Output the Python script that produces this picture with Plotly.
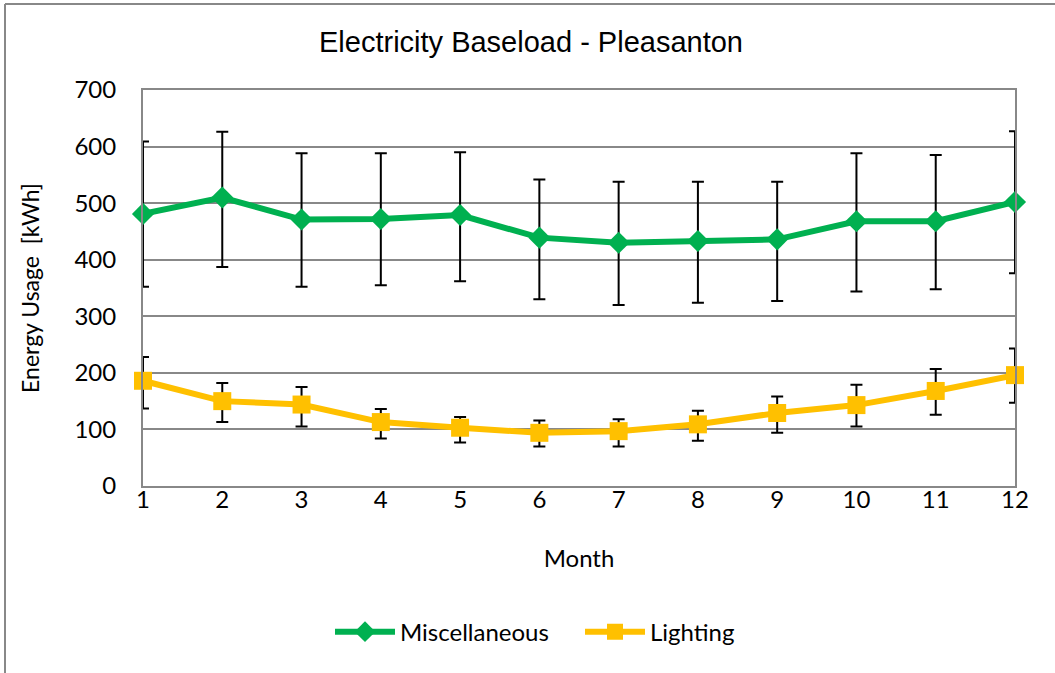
import plotly.graph_objects as go

months = [1, 2, 3, 4, 5, 6, 7, 8, 9, 10, 11, 12]
misc = [481, 510, 471, 472, 479, 439, 430, 433, 436, 468, 468, 502]
misc_hi = [609, 626, 588, 588, 590, 542, 538, 538, 538, 588, 585, 627]
misc_lo = [352, 387, 352, 355, 362, 330, 320, 324, 327, 344, 348, 376]
light = [186, 150, 144, 113, 103, 94, 97, 109, 129, 143, 168, 196]
light_hi = [228, 182, 175, 136, 122, 116, 118, 133, 158, 179, 207, 243]
light_lo = [137, 113, 105, 84, 77, 70, 70, 80, 94, 105, 126, 147]

GREEN = "#00B050"
YELLOW = "#FFC000"
FONT = "Lato"

def err(vals, hi, lo):
    return dict(type="data", symmetric=False,
                array=[h - v for h, v in zip(hi, vals)],
                arrayminus=[v - l for v, l in zip(vals, lo)],
                color="black", thickness=2, width=6)

fig = go.Figure()
# error bars (clipped to plot area), drawn beneath the lines
for vals, hi, lo in [(misc, misc_hi, misc_lo), (light, light_hi, light_lo)]:
    fig.add_trace(go.Scatter(x=months, y=vals, mode="markers", showlegend=False,
                             marker=dict(size=0.1, opacity=0), hoverinfo="skip",
                             error_y=err(vals, hi, lo), cliponaxis=True))
fig.add_trace(go.Scatter(x=months, y=misc, name="Miscellaneous", mode="lines+markers",
                         line=dict(color=GREEN, width=6),
                         marker=dict(symbol="diamond", size=17, color=GREEN),
                         cliponaxis=False))
fig.add_trace(go.Scatter(x=months, y=light, name="Lighting", mode="lines+markers",
                         line=dict(color=YELLOW, width=6),
                         marker=dict(symbol="square", size=18, color=YELLOW),
                         cliponaxis=False))

fig.update_layout(
    width=1055, height=673,
    margin=dict(l=143, r=40, t=90, b=187, autoexpand=False),
    paper_bgcolor="white", plot_bgcolor="white",
    font=dict(family=FONT, size=24, color="black"),
    title=dict(text="Electricity Baseload - Pleasanton", x=531 / 1055, xref="container",
               xanchor="center", y=1 - 42 / 673, yanchor="middle",
               font=dict(family="Liberation Sans", size=29, color="black")),
    xaxis=dict(range=[1, 12], tickmode="array", tickvals=months,
               showgrid=False, zeroline=False, showline=True, linecolor="#888888",
               linewidth=2, mirror=True, ticks="", ticklabelstandoff=-9,
               tickfont=dict(size=24), tickangle=0,
               title=dict(text="Month", font=dict(size=24), standoff=38)),
    yaxis=dict(range=[0, 700], tickvals=[0, 100, 200, 300, 400, 500, 600, 700],
               showgrid=True, gridcolor="#888888", gridwidth=2, zeroline=False,
               showline=True, linecolor="#888888", linewidth=2, mirror=True,
               ticks="", ticklabelstandoff=20, tickfont=dict(size=24),
               title=dict(text="Energy Usage  [kWh]", font=dict(size=23), standoff=28)),
    legend=dict(orientation="h", x=(330 - 143) / 872, xanchor="left",
                y=-0.369, yanchor="middle", entrywidth=175, entrywidthmode="pixels",
                font=dict(size=24), itemwidth=60, bgcolor="rgba(0,0,0,0)"),
    showlegend=True,
    shapes=[
        dict(type="line", xref="paper", yref="paper",
             x0=-138 / 872, x1=1.1, y0=1 + 86 / 396, y1=1 + 86 / 396,
             line=dict(color="#888888", width=2)),
        dict(type="line", xref="paper", yref="paper",
             x0=-138 / 872, x1=-138 / 872, y0=1 + 86 / 396, y1=-0.6,
             line=dict(color="#888888", width=2)),
    ],
)

fig.write_html("out.html", config={"displayModeBar": False},
               post_script="document.body.style.margin='0';")
